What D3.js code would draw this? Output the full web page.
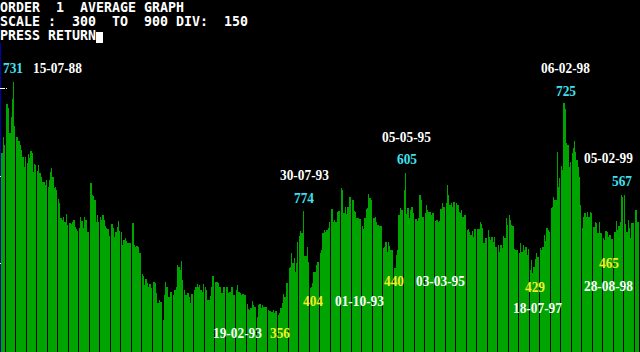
<!DOCTYPE html>
<html>
<head>
<meta charset="utf-8">
<script src="https://cdn.jsdelivr.net/npm/d3@7"></script>
<style>
  html, body { margin: 0; padding: 0; background: #000; }
  svg { display: block; }
</style>
</head>
<body>
<svg id="chart"></svg>
<script>
// screen text
const headerLines = ["ORDER  1  AVERAGE GRAPH", "SCALE :  300  TO  900 DIV:  150", "PRESS RETURN"];
const scaleMin = 300, scaleMax = 900, scaleDiv = 150;

// weekly averages, one line per division (first line is the partial lead-in)
const leadWeeks = 3, weeksPerDiv = 8;
const weekly = [
  639, 666, 653,
  723, 723, 716, 673, 701, 731, 760, 685,
  666, 666, 660, 653, 644, 632, 615, 632,
  622, 637, 630, 642, 639, 606, 620, 618,
  608, 618, 605, 598, 589, 589, 584, 593,
  581, 593, 606, 613, 598, 579, 581, 576,
  560, 553, 528, 524, 529, 521, 535, 516,
  521, 519, 517, 521, 524, 512, 509, 505,
  511, 529, 523, 511, 529, 524, 504, 504,
  567, 588, 567, 565, 558, 521, 533, 521,
  529, 524, 533, 524, 514, 511, 509, 497,
  495, 517, 511, 495, 504, 512, 523, 505,
  504, 481, 490, 493, 488, 485, 485, 485,
  499, 519, 481, 478, 480, 478, 468, 468,
  432, 428, 413, 423, 416, 410, 415, 408,
  396, 418, 416, 399, 382, 387, 384, 384,
  353, 396, 418, 410, 392, 392, 401, 394,
  396, 404, 410, 447, 444, 439, 454, 422,
  404, 396, 396, 399, 392, 382, 398, 398,
  404, 410, 415, 410, 413, 404, 401, 415,
  410, 404, 387, 387, 394, 410, 428, 416,
  418, 418, 416, 410, 410, 399, 410, 410,
  410, 410, 399, 401, 410, 410, 396, 396,
  404, 413, 401, 399, 396, 398, 396, 396,
  380, 372, 370, 374, 386, 379, 375, 375,
  358, 379, 380, 374, 379, 375, 375, 375,
  370, 368, 368, 367, 370, 365, 368, 368,
  362, 365, 374, 382, 398, 392, 416, 416,
  442, 444, 468, 451, 459, 435, 451, 487,
  497, 505, 502, 540, 463, 463, 478, 452,
  408, 410, 416, 435, 435, 447, 452, 452,
  468, 473, 502, 507, 504, 507, 511, 521,
  511, 543, 521, 524, 521, 538, 540, 540,
  579, 576, 536, 547, 535, 547, 564, 564,
  538, 558, 540, 538, 528, 528, 526, 526,
  514, 509, 528, 543, 545, 569, 562, 558,
  535, 528, 529, 521, 516, 514, 514, 514,
  476, 478, 487, 469, 487, 480, 473, 473,
  461, 442, 464, 473, 533, 545, 541, 541,
  576, 605, 535, 545, 528, 541, 547, 536,
  519, 526, 523, 528, 567, 558, 529, 529,
  536, 550, 541, 538, 538, 533, 536, 547,
  523, 524, 521, 523, 543, 553, 547, 547,
  553, 584, 567, 550, 553, 547, 555, 570,
  553, 550, 538, 536, 541, 529, 533, 533,
  507, 509, 504, 499, 505, 495, 509, 509,
  509, 509, 521, 517, 511, 485, 493, 493,
  507, 495, 490, 495, 487, 495, 478, 476,
  481, 469, 481, 476, 497, 493, 528, 516,
  533, 524, 516, 514, 475, 473, 473, 473,
  468, 485, 469, 481, 473, 478, 464, 475,
  439, 456, 434, 444, 457, 468, 461, 461,
  476, 473, 478, 499, 488, 511, 507, 504,
  545, 547, 564, 558, 558, 641, 581, 596,
  617, 610, 725, 714, 656, 653, 615, 624,
  639, 647, 660, 641, 627, 615, 598, 550,
  511, 529, 536, 529, 538, 529, 538, 536,
  526, 512, 521, 519, 502, 521, 502, 502,
  493, 490, 505, 504, 495, 499, 492, 492,
  493, 504, 523, 507, 514, 521, 567, 564,
  567, 517, 504, 524, 511, 493, 519, 519,
  538, 541, 521, 521
];

// annotations on the graph
const dateLabels = ["15-07-88", "30-07-93", "05-05-95", "06-02-98", "05-02-99",
                    "19-02-93", "01-10-93", "03-03-95", "18-07-97", "28-08-98"];
const highLabels = ["731", "774", "605", "725", "567"];
const lowLabels = ["356", "404", "440", "429", "465"];

// where the annotations sit on screen (left, baseline)
const datePlaces = [[33, 73], [280, 180], [382, 142], [541, 73], [584, 163],
                    [213, 337.5], [335, 306], [416, 286], [513, 313], [584, 291]];
const highPlaces = [[3, 73], [294, 203], [397, 164], [556, 96], [612, 186]];
const lowPlaces = [[270, 337.5], [303, 306], [384, 286], [525, 292], [599, 268]];

const width = 640, height = 352;
const green = "#00a400", cyan = "#40e0f0", yellow = "#f4ec2c", blue = "#0000b0";

const svg = d3.select("#chart")
    .attr("width", width)
    .attr("height", height)
    .style("background", "#000");

// scales
const step = 1.31;
const x = d3.scaleLinear()
    .domain([0, weekly.length])
    .range([1.37, 1.37 + weekly.length * step]);

const y = d3.scaleLinear()
    .domain([scaleMin, scaleMax])
    .range([350.9, 0.5]);

// vertical axis with scale divisions
svg.append("rect")
    .attr("x", 0).attr("y", 43)
    .attr("width", 1).attr("height", height - 43)
    .attr("fill", blue)
    .attr("shape-rendering", "crispEdges");

const yAxis = d3.axisRight(y)
    .tickValues(d3.range(scaleMin + scaleDiv, scaleMax, scaleDiv))
    .tickSize(7)
    .tickFormat("");

svg.append("g")
    .attr("shape-rendering", "crispEdges")
    .call(yAxis)
    .call(g => g.select(".domain").remove())
    .call(g => g.selectAll(".tick line").attr("stroke", "#fff"));

// bars
svg.append("g")
    .attr("shape-rendering", "crispEdges")
    .selectAll("rect")
    .data(weekly)
    .join("rect")
    .attr("x", (d, i) => x(i))
    .attr("width", (d, i) => x(i + 1) - x(i))
    .attr("y", d => y(d))
    .attr("height", d => height - y(d))
    .attr("fill", green);

// division gaps
const divStarts = d3.range(leadWeeks, weekly.length, weeksPerDiv);
svg.append("g")
    .attr("shape-rendering", "crispEdges")
    .selectAll("rect")
    .data(divStarts)
    .join("rect")
    .attr("x", d => Math.floor(x(d)))
    .attr("width", 1)
    .attr("y", 40)
    .attr("height", height - 40)
    .attr("fill", "#000");

// header text
svg.append("g")
    .selectAll("text")
    .data(headerLines)
    .join("text")
    .attr("x", 0)
    .attr("y", (d, i) => 12 + i * 14)
    .attr("xml:space", "preserve")
    .attr("textLength", d => d.length * 8)
    .attr("lengthAdjust", "spacingAndGlyphs")
    .style("white-space", "pre")
    .style("font-family", "'DejaVu Sans Mono', 'Liberation Mono', monospace")
    .style("font-weight", "bold")
    .style("font-size", "13.3px")
    .style("fill", "#fff")
    .text(d => d);

// cursor
svg.append("rect")
    .attr("x", headerLines[2].length * 8)
    .attr("y", 32)
    .attr("width", 7)
    .attr("height", 11)
    .attr("fill", "#fff");

// annotations
function notes(labels, places, colour, w) {
    svg.append("g")
        .selectAll("text")
        .data(labels)
        .join("text")
        .attr("x", (d, i) => places[i][0])
        .attr("y", (d, i) => places[i][1])
        .attr("textLength", w)
        .attr("lengthAdjust", "spacingAndGlyphs")
        .style("font-family", "'Liberation Serif', 'DejaVu Serif', serif")
        .style("font-weight", "bold")
        .style("font-size", "14.5px")
        .style("fill", colour)
        .text(d => d);
}

notes(dateLabels, datePlaces, "#fff", 49);
notes(highLabels, highPlaces, cyan, 20);
notes(lowLabels, lowPlaces, yellow, 20);
</script>
</body>
</html>
